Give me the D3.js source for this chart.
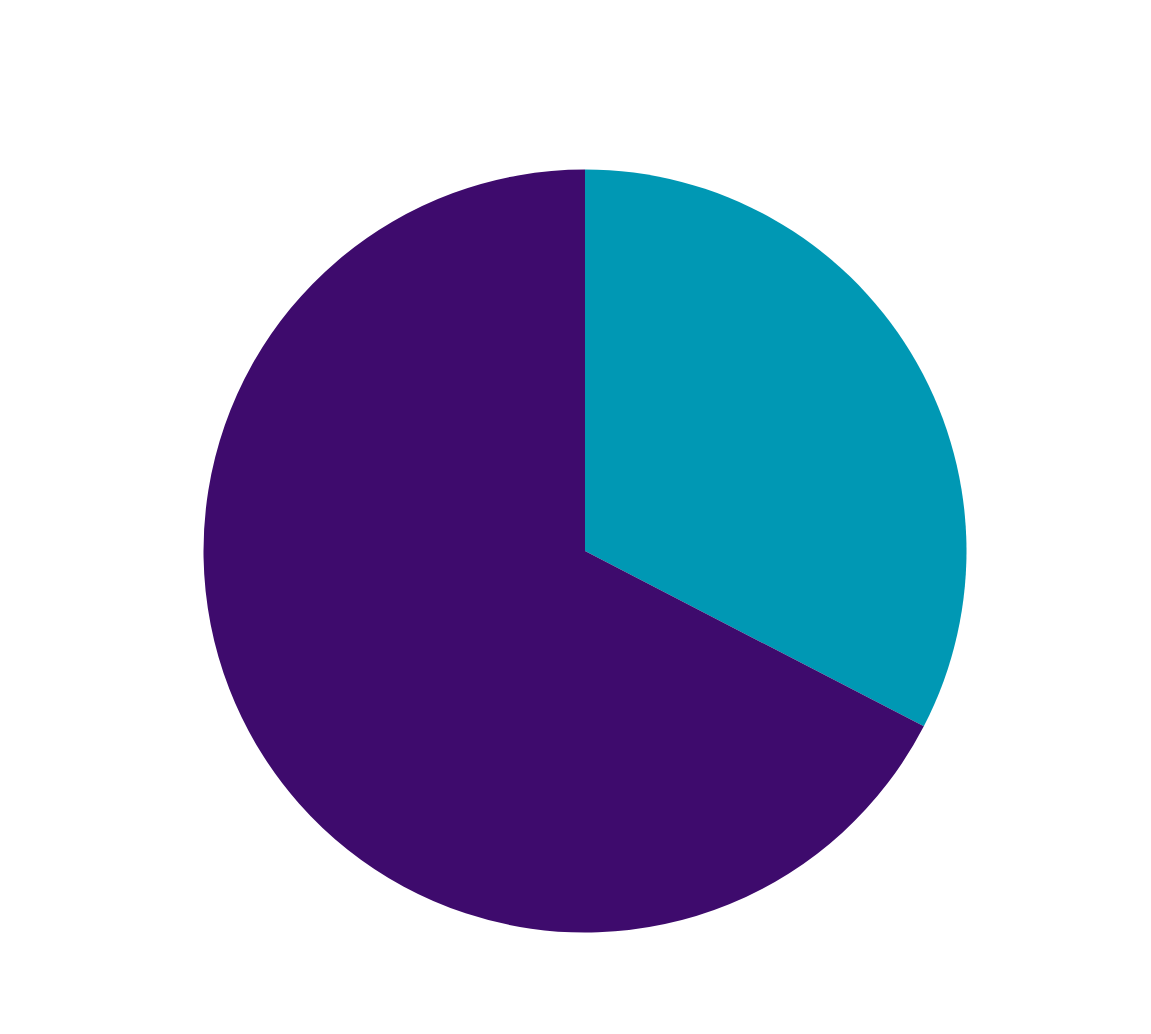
<!DOCTYPE html>
<html>
<head>
<meta charset="utf-8">
<script src="https://cdn.jsdelivr.net/npm/d3@7"></script>
<style>
html,body{margin:0;padding:0;background:#fff;}
svg{display:block;}
</style>
</head>
<body>
<svg id="chart" width="1151" height="1034"></svg>
<script>
const categories = ["A", "B"];
const values = [32.6, 67.4];
const colors = ["#0098B4", "#3E0B6D"];

const svg = d3.select("#chart");
const cx = 585, cy = 551, r = 381.5;
const g = svg.append("g").attr("transform", `translate(${cx},${cy})`);
const pie = d3.pie().sort(null).value(d => d.v);
const arc = d3.arc().innerRadius(0).outerRadius(r);
const data = categories.map((c, i) => ({c, v: values[i]}));
const color = d3.scaleOrdinal().domain(categories).range(colors);
g.selectAll("path").data(pie(data)).join("path")
  .attr("d", arc)
  .attr("fill", d => color(d.data.c));
</script>
</body>
</html>
